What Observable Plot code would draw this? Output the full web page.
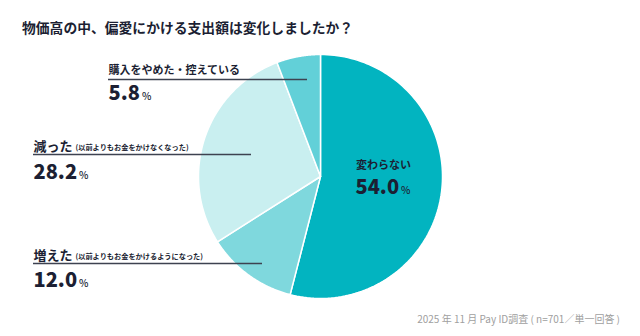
<!DOCTYPE html>
<html><head><meta charset="utf-8">
<script src="https://cdn.jsdelivr.net/npm/d3@7"></script>
<script src="https://cdn.jsdelivr.net/npm/@observablehq/plot@0.6"></script>
<style>
body{margin:0;background:#fff;font-family:"Noto Sans CJK JP","Noto Sans",sans-serif;}
#wrap{position:relative;width:640px;height:336px;overflow:hidden;}
#title{position:absolute;left:22px;top:17px;font-size:13.8px;font-weight:700;color:#1c1f33;white-space:nowrap;}
#note{position:absolute;right:20px;top:311px;font-size:10px;color:#a0a0a0;white-space:nowrap;}
#chart{position:absolute;left:0;top:0;}
</style></head>
<body>
<div id="wrap"><div id="chart"></div>
<div id="title">物価高の中、偏愛にかける支出額は変化しましたか？</div>
<div id="note">2025 年 11 月 Pay ID調査 ( n=701／単一回答 )</div>
</div>
<script>
// data
const categories = ["変わらない", "増えた", "減った", "購入をやめた・控えている"];
const values = [54.0, 12.0, 28.2, 5.8];
const subLabels = ["", "(以前よりもお金をかけるようになった)", "(以前よりもお金をかけなくなった)", ""];
const colors = ["#02b4c0", "#7fd8dd", "#c9eff0", "#62d0d8"];

// layout (pixels)
const W = 640, H = 336, cx = 320, cy = 176, R = 122;
const layout = [
  {lx: 383, ly: 168.5, nx: 355, ny: 193, inside: true, size: 11, line: null},
  {lx: 33, ly: 259, nx: 33, ny: 286, inside: false, size: 13, line: [33, 262, 263]},
  {lx: 33, ly: 150, nx: 33, ny: 178, inside: false, size: 13, line: [33, 251, 154]},
  {lx: 108, ly: 73, nx: 108, ny: 99, inside: false, size: 11, line: [108, 307, 79]}
];

const pie = d3.pie().sort(null).value(d => d.value)(categories.map((c, i) => ({cat: c, value: values[i]})));
const pts = [];
for (const a of pie) {
  pts.push({cat: a.data.cat, x: cx, y: cy});
  const n = 120;
  for (let k = 0; k <= n; k++) {
    const t = a.startAngle + (a.endAngle - a.startAngle) * k / n;
    pts.push({cat: a.data.cat, x: cx + R * Math.sin(t), y: cy - R * Math.cos(t)});
  }
  pts.push({cat: a.data.cat, x: cx, y: cy});
}

const labels = categories.map((c, i) => ({cat: c, value: values[i], sub: subLabels[i], ...layout[i]}));
const lines = labels.filter(d => d.line).map(d => ({x1: d.line[0], x2: d.line[1], y: d.line[2]}));
const outer = labels.filter(d => !d.inside);
const inner = labels.filter(d => d.inside);

const ink = "#1c1f33";
const plot = Plot.plot({
  width: W, height: H, margin: 0,
  x: {domain: [0, W], axis: null},
  y: {domain: [H, 0], axis: null},
  color: {domain: categories, range: colors},
  style: {fontFamily: '"Noto Sans CJK JP", sans-serif'},
  marks: [
    Plot.line(pts, {x: "x", y: "y", z: "cat", fill: "cat", stroke: "#fff", strokeWidth: 1.5, strokeLinejoin: "round"}),
    Plot.ruleY(lines, {y: "y", x1: "x1", x2: "x2", stroke: "#3d4250", strokeWidth: 1.4}),
    Plot.text(outer, {x: "lx", y: "ly", text: "cat", textAnchor: "start", fontSize: "size", fontWeight: 700, fill: ink, lineAnchor: "bottom", className: "catlabel"}),
    Plot.text(inner, {x: "lx", y: "ly", text: "cat", textAnchor: "middle", fontSize: "size", fontWeight: 700, fill: ink, lineAnchor: "bottom"}),
    Plot.text(labels, {x: "nx", y: "ny", text: d => d.value.toFixed(1), textAnchor: "start", fontSize: 20, fontWeight: 900, fill: ink, lineAnchor: "bottom", className: "numlabel"})
  ]
});
document.getElementById("chart").appendChild(plot);

// append small suffixes as tspans
plot.querySelectorAll(".catlabel text").forEach((t, i) => {
  const d = outer[i];
  if (d.sub) {
    const ts = document.createElementNS("http://www.w3.org/2000/svg", "tspan");
    ts.setAttribute("font-size", "7.2");
    ts.setAttribute("dx", "3");
    ts.setAttribute("dy", "-1");
    ts.textContent = d.sub;
    t.appendChild(ts);
  }
});
plot.querySelectorAll(".numlabel text").forEach(t => {
  const ts = document.createElementNS("http://www.w3.org/2000/svg", "tspan");
  ts.setAttribute("font-size", "10");
  ts.setAttribute("font-weight", "500");
  ts.setAttribute("dx", "2");
  ts.textContent = "%";
  t.appendChild(ts);
});
</script>
</body></html>
